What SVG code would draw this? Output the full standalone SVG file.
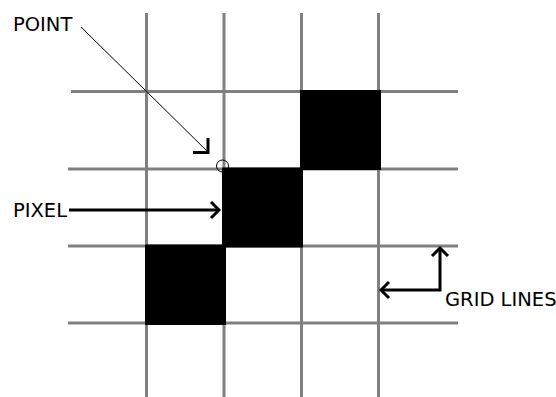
<svg xmlns="http://www.w3.org/2000/svg" width="556" height="397" viewBox="0 0 556 397">
<style>
.grid{stroke:#808080;stroke-width:3;fill:none}
.pix{fill:#000}
.arr{stroke:#000;stroke-width:3;fill:none}
.lbl{font-family:"DejaVu Sans",sans-serif;font-size:19.5px;fill:#000}
</style>
<rect width="556" height="397" fill="#fff"/>
<g id="grid">
<line class="grid" x1="146.5" y1="13" x2="146.5" y2="397"/>
<line class="grid" x1="224" y1="13" x2="224" y2="397"/>
<line class="grid" x1="301.5" y1="13" x2="301.5" y2="397"/>
<line class="grid" x1="378.5" y1="13" x2="378.5" y2="397"/>
<line class="grid" x1="71" y1="91.5" x2="458" y2="91.5"/>
<line class="grid" x1="68" y1="169" x2="458" y2="169"/>
<line class="grid" x1="68" y1="246" x2="458" y2="246"/>
<line class="grid" x1="68" y1="323" x2="458" y2="323"/>
</g>
<g id="pixels">
<rect class="pix" x="300" y="90" width="81" height="80"/>
<rect class="pix" x="222" y="167.5" width="81" height="80"/>
<rect class="pix" x="145" y="244.5" width="81" height="80.5"/>
</g>
<g id="point">
<text class="lbl" x="13" y="31">POINT</text>
<circle cx="222.5" cy="166" r="6" fill="none" stroke="#000" stroke-width="1"/>
</g>
<g id="pixel-label">
<text class="lbl" x="13" y="216.5">PIXEL</text>
</g>
<g id="gridlines-label">
<text class="lbl" x="445" y="306">GRID LINES</text>
</g>
<g id="connectors">
<line x1="81" y1="27" x2="208" y2="152" stroke="#000" stroke-width="1"/>
<polyline class="arr" points="208,138 208,152.5 193,152.5"/>
<line class="arr" x1="69" y1="210" x2="219" y2="210"/>
<polyline class="arr" points="211,202 219,210 211,218"/>
<polyline class="arr" points="381,290 440,290 440,248"/>
<polyline class="arr" points="389,282 381,290 389,298"/>
<polyline class="arr" points="432,256 440,248 448,256"/>
</g>
</svg>
